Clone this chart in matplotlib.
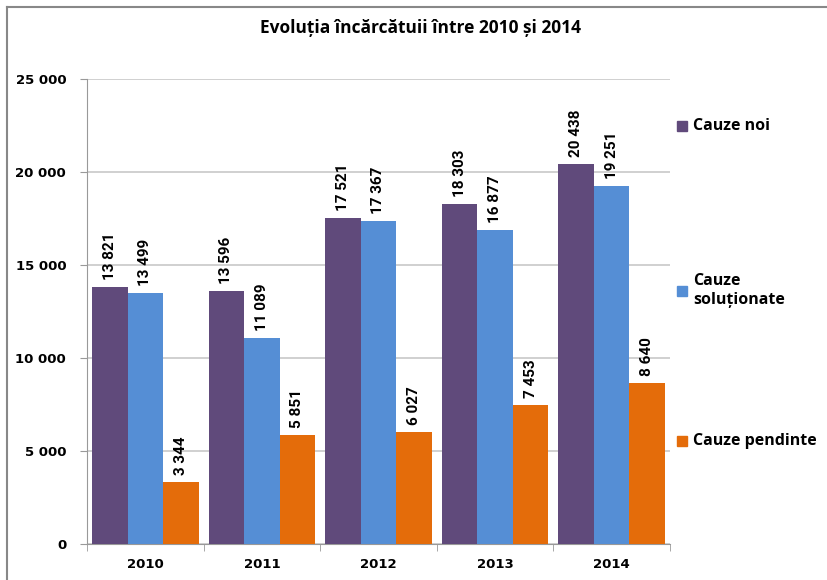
import matplotlib
matplotlib.use("Agg")
import matplotlib.pyplot as plt
import numpy as np
from matplotlib.lines import Line2D
from matplotlib.patches import Rectangle

years = ["2010", "2011", "2012", "2013", "2014"]
series_names = ["Cauze noi", "Cauze\nsoluționate", "Cauze pendinte"]
cauze_noi = [13821, 13596, 17521, 18303, 20438]
cauze_solutionate = [13499, 11089, 17367, 16877, 19251]
cauze_pendinte = [3344, 5851, 6027, 7453, 8640]
colors = ["#604A7B", "#558ED5", "#E46C0A"]
title = "Evoluția încărcătuii între 2010 și 2014"

def fmt(v):
    return f"{v:,}".replace(",", " ")

W, H = 828, 580
fig = plt.figure(figsize=(W/100, H/100), dpi=100)
ax = fig.add_axes([87/W, 1-544/H, (670-87)/W, (544-79)/H])

x = np.arange(len(years))
bw = 0.305
for i, (vals, name, c) in enumerate(zip([cauze_noi, cauze_solutionate, cauze_pendinte], series_names, colors)):
    pos = x + (i-1)*bw
    ax.bar(pos, vals, width=bw, color=c, label=name, zorder=3)
    for p, v in zip(pos, vals):
        ax.annotate(fmt(v), (p, v), xytext=(0, 5), textcoords="offset points",
                    rotation=90, ha="center", va="bottom", fontsize=11,
                    fontweight="bold", family="Roboto")

ax.set_xlim(-0.5, 4.5)
ax.set_ylim(0, 25000)
ax.set_yticks(range(0, 25001, 5000))
ax.set_yticklabels([fmt(v) for v in range(0, 25001, 5000)], fontsize=9.5, fontweight="bold", family="DejaVu Sans")
ax.set_xticks(x)
ax.set_xticklabels(years, fontsize=9.5, fontweight="bold", family="DejaVu Sans")
ax.set_xticks(np.arange(-0.5, 5, 1), minor=True)
ax.tick_params(axis="x", which="major", length=0, pad=10)
ax.tick_params(axis="x", which="minor", length=5, color="#999999")
ax.tick_params(axis="y", length=5, color="#999999", pad=10)
ax.yaxis.grid(True, color="#C8C8C8", linewidth=1.2, zorder=0)
for s in ["top", "right"]:
    ax.spines[s].set_visible(False)
for s in ["left", "bottom"]:
    ax.spines[s].set_color("#999999")

fig.text(421/W, 1-28/H, title, ha="center", va="center", fontsize=12.5,
         fontweight="bold", family="Open Sans")

handles, labels = ax.get_legend_handles_labels()
leg_y = [126, 291, 441]
for lab, y, c in zip(labels, leg_y, colors):
    fig.patches.append(Rectangle((677/W, 1-(y+5)/H), 10/W, 10/H, transform=fig.transFigure, color=c, figure=fig))
    fig.text(693/W, 1-y/H, lab, ha="left", va="center", fontsize=11.5, fontweight="bold",
             family="Open Sans", linespacing=1.25)

fig.lines.append(Line2D([7/W, 7/W], [0, 1-7/H], transform=fig.transFigure, color="#888888", linewidth=1.5))
fig.lines.append(Line2D([7/W, 1], [1-7/H, 1-7/H], transform=fig.transFigure, color="#888888", linewidth=1.5))

fig.savefig("out.png", dpi=100)
